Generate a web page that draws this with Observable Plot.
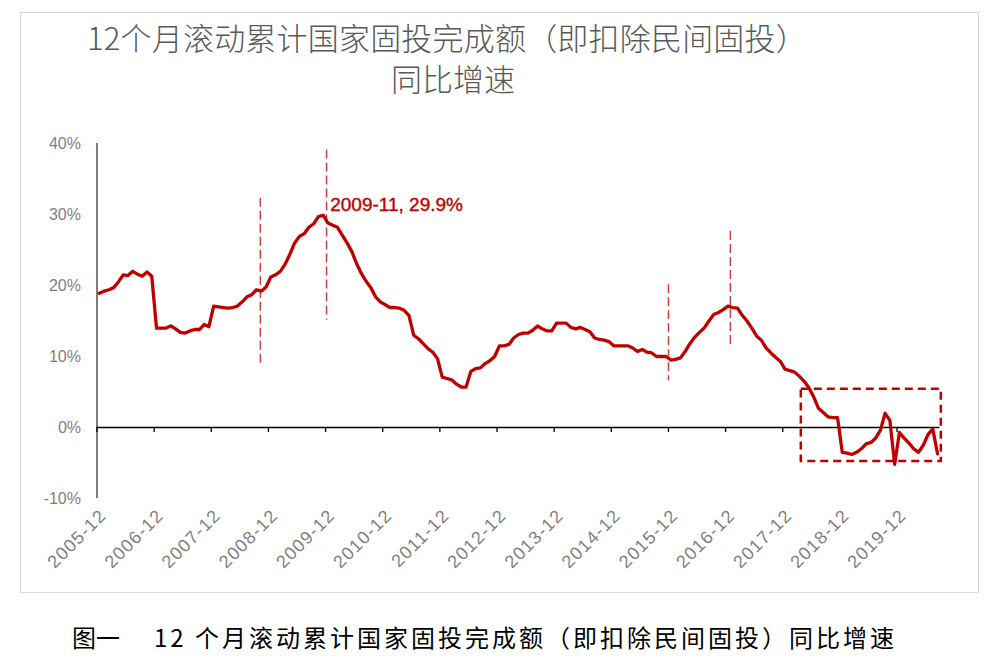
<!DOCTYPE html>
<html><head><meta charset="utf-8">
<script src="https://cdn.jsdelivr.net/npm/d3@7"></script>
<script src="https://cdn.jsdelivr.net/npm/@observablehq/plot@0.6"></script>
<style>
html,body{margin:0;padding:0;background:#fff;}
body{width:994px;height:668px;position:relative;overflow:hidden;font-family:"Noto Sans CJK SC","Noto Sans",sans-serif;}
#frame{position:absolute;left:20px;top:12px;width:957px;height:579px;border:1px solid #d9d9d9;box-sizing:content-box;}
.title{position:absolute;color:#595959;font-size:31px;line-height:31px;white-space:nowrap;font-weight:300;}
#t1{left:87px;top:21px;letter-spacing:0.2px;}
#t2{left:391px;top:62px;}
#caption{position:absolute;left:72px;top:624px;font-size:24px;line-height:26px;color:#000;white-space:nowrap;}
#caption .rest{letter-spacing:3px;}
#chart{position:absolute;left:0;top:120px;}
</style>
</head><body>
<div id="frame"></div>
<div class="title" id="t1">12个月滚动累计国家固投完成额（即扣除民间固投）</div>
<div class="title" id="t2">同比增速</div>
<div id="chart"></div>
<div id="caption">图一<span style="display:inline-block;width:34px"></span><span class="rest">12 个月滚动累计国家固投完成额（即扣除民间固投）同比增速</span></div>
<script>
// monthly YoY growth (%), starting 2005-12, one value per month
const startMonth = "2005-12";
const values = [
  18.9,19.2,19.4,19.7,20.5,21.5,21.4,22.0,21.6,21.3,21.9,21.3,
  14.0,14.0,14.0,14.3,13.9,13.4,13.3,13.6,13.8,13.8,14.5,14.2,
  17.1,17.0,16.9,16.8,16.9,17.1,17.7,18.4,18.7,19.4,19.2,19.8,
  21.2,21.5,22.0,23.0,24.4,26.0,26.9,27.3,28.2,28.7,29.7,29.9,
  28.8,28.5,28.2,27.1,26.0,24.8,23.1,21.7,20.6,19.7,18.4,17.7,
  17.3,16.9,16.9,16.8,16.5,15.8,13.0,12.5,11.8,11.1,10.6,9.7,
  7.1,6.9,6.7,6.1,5.7,5.7,7.9,8.3,8.4,9.0,9.4,10.0,
  11.5,11.5,11.7,12.6,13.1,13.3,13.3,13.7,14.3,13.9,13.6,13.6,
  14.7,14.7,14.7,14.1,13.9,14.1,13.8,13.5,12.6,12.4,12.3,12.1,
  11.5,11.5,11.5,11.5,11.2,10.7,11.0,10.6,10.5,10.0,10.0,10.0,
  9.5,9.6,9.8,10.7,11.8,12.7,13.4,14.0,15.0,15.9,16.2,16.6,
  17.1,16.9,16.8,15.8,15.0,14.0,12.9,12.3,11.2,10.5,9.9,9.3,
  8.2,8.0,7.8,7.2,6.5,5.6,4.3,2.7,2.1,1.5,1.4,1.4,
  -3.5,-3.6,-3.8,-3.5,-3.0,-2.3,-2.1,-1.5,-0.4,2.0,1.0,-5.2,
  -0.7,-1.5,-2.2,-3.0,-3.5,-2.5,-1.0,-0.2,-3.7
];
const tickLabels = ["2005-12","2006-12","2007-12","2008-12","2009-12","2010-12","2011-12","2012-12",
  "2013-12","2014-12","2015-12","2016-12","2017-12","2018-12","2019-12"];
const yTicks = [-10,0,10,20,30,40];
const peakIndex = 47, peakValue = 29.9, peakText = "2009-11, 29.9%";
// vertical dashed marker lines (month index, top %, bottom %)
const markerIdx = [33.8, 47.7, 119.5, 132.5];
const markerTop = [32.3, 39.1, 20.1, 27.6];
const markerBottom = [8.6, 15.1, 6.6, 11.1];
// dashed highlight box (month index range, % range)
const boxIdx = [147.4, 176.8];
const boxVal = [-4.8, 5.4];

const data = values.map((v, i) => ({i, v}));
const labelIdx = tickLabels.map((_, k) => k * 12);
const tickBounds = labelIdx.map(i => i - 0.5);
const markers = markerIdx.map((x, k) => ({x, y1: markerTop[k], y2: markerBottom[k]}));
const red = "#C00000";

const plot = Plot.plot({
  width: 994,
  height: 470,
  marginLeft: 96.5,
  marginRight: 54.6,
  marginTop: 23,
  marginBottom: 92,
  x: {domain: [-0.5, values.length - 0.5], axis: null},
  y: {domain: [-10, 40], axis: null},
  style: {fontFamily: "'Liberation Sans', Arial, sans-serif", background: "transparent"},
  marks: [
    Plot.axisY({ticks: yTicks, tickFormat: d => d + "%", tickSize: 0, tickPadding: 16, fontSize: 16, fill: "#7f7f7f"}),
    Plot.axisX({ticks: labelIdx, tickFormat: i => tickLabels[i / 12], tickSize: 0, tickPadding: 14, tickRotate: -45, fontSize: 18, fill: "#7f7f7f", dx: 4, anchor: "bottom"}),
    Plot.ruleX([-0.5], {stroke: "#262626", strokeWidth: 1.2}),
    Plot.ruleY([0], {stroke: "#000", strokeWidth: 1.3}),
    Plot.ruleX(tickBounds, {x: d => d, y1: 0, y2: 0, insetBottom: -5, stroke: "#000", strokeWidth: 1.3}),
    Plot.ruleX(markers, {x: "x", y1: "y1", y2: "y2", stroke: red, strokeOpacity: 0.75, strokeWidth: 1.5, strokeDasharray: "9,4"}),
    Plot.rect([{x1: boxIdx[0], x2: boxIdx[1], y1: boxVal[0], y2: boxVal[1]}], {x1: "x1", x2: "x2", y1: "y1", y2: "y2", fill: "none", stroke: red, strokeWidth: 2.5, strokeDasharray: "8,5"}),
    Plot.line(data, {x: "i", y: "v", stroke: red, strokeWidth: 3.3, strokeLinejoin: "round"}),
    Plot.text([{x: peakIndex, y: peakValue, t: peakText}], {x: "x", y: "y", text: "t", dx: 7, dy: -10, textAnchor: "start", fill: red, fontSize: 19, stroke: red, strokeWidth: 0.4})
  ]
});
document.getElementById("chart").appendChild(plot);
d3.select(plot).selectAll('g[aria-label="x-axis tick label"] text').attr("letter-spacing", "1.2px");
</script>
</body></html>
